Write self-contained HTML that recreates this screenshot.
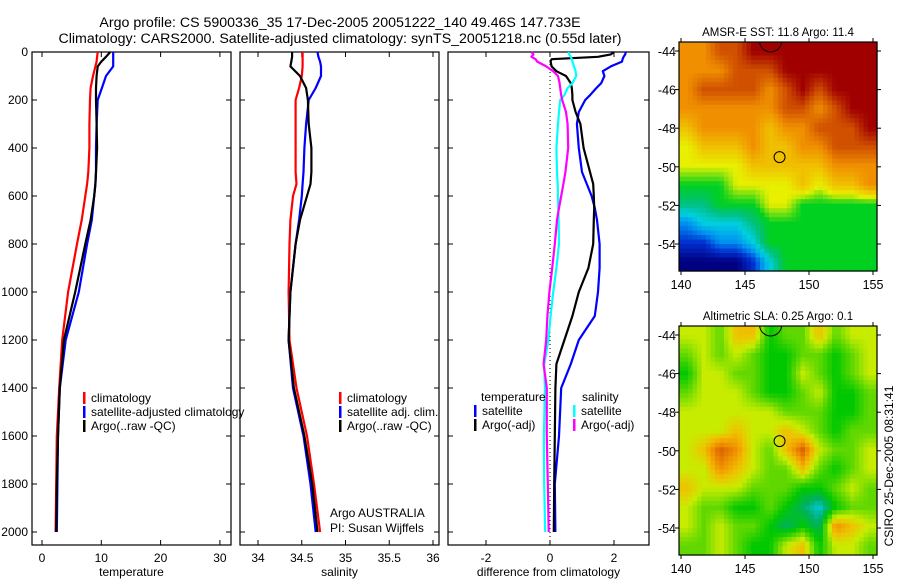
<!DOCTYPE html>
<html><head><meta charset="utf-8"><style>
html,body{margin:0;padding:0;background:#fff;}
svg{display:block;font-family:"Liberation Sans",sans-serif;}
</style></head><body>
<svg id="fig" width="900" height="580" viewBox="0 0 900 580">
<text x="340" y="27" font-size="14.2" text-anchor="middle">Argo profile: CS 5900336_35 17-Dec-2005 20051222_140 49.46S 147.733E</text>
<text x="340" y="43" font-size="14.2" text-anchor="middle">Climatology: CARS2000. Satellite-adjusted climatology: synTS_20051218.nc (0.55d later)</text>
<g id="g"></g>
</svg>
<script>
// ---- profile data ----
const tDepth = [0,20,40,60,100,150,200,300,400,500,550,600,700,800,1000,1200,1400,1600,1800,2000];
const tempClim = [9.4,9.3,9.2,9.0,8.6,8.2,8.1,8.0,8.0,7.8,7.6,7.3,6.7,5.9,4.4,3.4,2.9,2.5,2.4,2.3];
const tempSat  = [12.0,12.0,12.0,12.0,10.8,10.1,9.4,9.2,9.1,9.1,9.0,8.8,8.4,7.6,6.2,4.0,3.0,2.7,2.6,2.5];
const tempArgo = [11.5,10.8,10.0,9.4,9.2,9.1,9.1,9.2,9.3,9.1,9.0,8.8,8.2,7.3,5.6,3.7,3.0,2.7,2.5,2.4];
const salClim = [34.51,34.51,34.51,34.51,34.50,34.47,34.43,34.43,34.43,34.43,34.44,34.40,34.37,34.36,34.35,34.36,34.44,34.56,34.64,34.71];
const salSat  = [34.68,34.69,34.71,34.72,34.72,34.66,34.58,34.55,34.53,34.52,34.51,34.50,34.47,34.43,34.37,34.35,34.40,34.52,34.60,34.66];
const salArgo = [34.39,34.39,34.38,34.37,34.48,34.55,34.57,34.58,34.61,34.61,34.60,34.56,34.48,34.43,34.37,34.35,34.41,34.53,34.62,34.68];
const dDepth = [0,10,20,30,40,60,80,100,130,150,180,200,250,300,400,500,550,600,650,700,800,900,1000,1100,1200,1300,1400,1600,1800,2000];
const dTempSat  = [2.37,2.35,2.3,2.27,2.25,1.9,1.65,1.7,1.6,1.45,1.25,1.1,0.9,0.84,0.9,1.0,1.15,1.3,1.4,1.47,1.55,1.55,1.5,1.4,0.9,0.65,0.35,0.28,0.15,0.17];
const dTempArgo = [2.0,1.9,1.5,0.05,0.02,0.05,0.2,0.5,0.65,0.68,0.7,0.7,0.8,0.95,1.05,1.25,1.35,1.37,1.38,1.37,1.35,1.2,0.9,0.7,0.45,0.2,0.17,0.15,0.13,0.12];
const dSalSat   = [0.57,0.6,0.65,0.68,0.7,0.75,0.8,0.82,0.7,0.55,0.45,0.32,0.28,0.25,0.2,0.22,0.24,0.25,0.26,0.27,0.28,0.2,0.1,0.02,-0.05,-0.18,-0.16,-0.19,-0.18,-0.15];
const dSalArgo  = [-0.58,-0.52,-0.58,-0.45,-0.4,-0.12,0.1,0.25,0.3,0.32,0.35,0.38,0.5,0.55,0.57,0.48,0.42,0.35,0.28,0.22,0.15,0.07,-0.02,-0.08,-0.12,-0.2,-0.1,-0.1,-0.07,-0.04];
const depthTicks = [0,200,400,600,800,1000,1200,1400,1600,1800,2000];
const tempTicks = [0,10,20,30];
const salTicks = [34,34.5,35,35.5,36];
const diffTicks = [-2,0,2];
// ---- map data (colour level grids, rows -44..-55, cols 140..155) ----
const sstGrid = [
[8,8,9,9,10,10,10,10,10,10,10,10],
[8,8,8,9,9,9,10,10,10,10,10,10],
[8,9,9,9,9,8,9,10,9,10,10,10],
[8,8,8,8,8,8,9,9,8,9,10,10],
[7,8,8,8,8,7,8,8,9,9,9,10],
[6,7,7,7,8,7,7,8,8,9,9,9],
[6,6,6,6,7,7,7,7,7,8,8,8],
[5,5,5,6,6,6,6,7,6,7,7,8],
[4,4,5,5,5,6,6,5,5,5,5,5],
[2,3,3,3,4,5,5,5,5,5,5,5],
[1,1,2,2,3,5,5,5,5,5,5,5],
[0,0,0,0,1,3,5,5,5,5,5,5]];
const slaGrid = [
[4,4,3,5,5,2,3,3,5,3,4,4],
[3,4,3,4,3,2,2,3,3,2,3,4],
[2,4,4,3,3,2,2,4,3,2,3,4],
[3,4,4,4,3,2,2,3,4,2,2,3],
[4,4,4,4,4,4,3,3,3,2,2,3],
[4,4,4,5,4,4,5,4,3,2,3,3],
[4,5,7,6,4,3,5,7,4,3,3,4],
[4,4,6,5,4,3,3,5,3,2,3,4],
[5,4,4,4,3,3,3,2,2,3,4,3],
[4,3,3,2,2,3,2,1,0,2,3,3],
[4,3,4,3,3,2,1,2,1,6,5,4],
[3,3,4,3,2,2,4,5,2,4,4,3]];
const sstPal = ["#000080","#0030d0","#0090f0","#00d0e0","#00c080","#00d020","#e8f000","#f0c000","#f09000","#d05000","#a00000"];
const slaPal = ["#00c8e0","#00b060","#00c800","#60d800","#c8ec00","#f0c000","#f09000","#d86000"];
const mapLonTicks = [140,145,150,155];
const mapLatTicks = [-44,-46,-48,-50,-52,-54];

const NS="http://www.w3.org/2000/svg";
const G=document.getElementById('g');
function mk(tag,attrs,parent){const e=document.createElementNS(NS,tag);for(const k in attrs)e.setAttribute(k,attrs[k]);(parent||G).appendChild(e);return e;}
const Y0=52, YB=545;
const yD = d => Y0 + 0.24*d;

function panel(name,x0,x1,xf,ticks,label,fmt){
  const r=mk('rect',{x:x0,y:Y0,width:x1-x0,height:YB-Y0,fill:'none',stroke:'#000','stroke-width':1.2});
  
  
  depthTicks.forEach(d=>{
    mk('line',{x1:x0,x2:x0+5,y1:yD(d),y2:yD(d),stroke:'#000'});
    mk('line',{x1:x1,x2:x1-5,y1:yD(d),y2:yD(d),stroke:'#000'});
  });
  ticks.forEach(v=>{
    const x=xf(v);
    mk('line',{x1:x,x2:x,y1:YB,y2:YB-5,stroke:'#000'});
    mk('line',{x1:x,x2:x,y1:Y0,y2:Y0+5,stroke:'#000'});
    const t=mk('text',{x:x,y:562,'font-size':12,'text-anchor':'middle'});
    t.textContent=fmt?fmt(v):String(v);
    
    
  });
  const t=mk('text',{x:(x0+x1)/2,y:576,'font-size':12,'text-anchor':'middle'});
  t.textContent=label;
  
  
}
function line(name,xf,depths,vals,color){
  const pts=depths.map((d,i)=>xf(vals[i]).toFixed(1)+','+yD(d).toFixed(1)).join(' ');
  const p=mk('polyline',{points:pts,fill:'none',stroke:color,'stroke-width':2.2,'stroke-linejoin':'round'});
  
  
}
function txt(name,x,y,s,extra){const t=mk('text',Object.assign({x:x,y:y,'font-size':12},extra||{}));t.textContent=s;
  
  return t;}
function legend(name,x,y,color,s){
  const b=mk('rect',{x:x,y:y-10,width:2.5,height:12,fill:color});
  
  
  txt(name,x+8,y,s);
}

depthTicks.forEach(d=>{txt('depth-tick-label',28,yD(d)+4,String(d),{'text-anchor':'end'});});

const xT = v=>42+5.93*v, xS=v=>258+87.5*(v-34), xDf=v=>550+32*v;
panel('temperature-panel',32,231,xT,tempTicks,'temperature');
panel('salinity-panel',240,439,xS,salTicks,'salinity');
panel('difference-panel',448,649,xDf,diffTicks,'difference from climatology');
mk('line',{x1:xDf(0),x2:xDf(0),y1:Y0,y2:YB,stroke:'#000','stroke-dasharray':'1,3'});

line('temp-climatology-line',xT,tDepth,tempClim,'#ff0000');
line('temp-satellite-line',xT,tDepth,tempSat,'#0000ff');
line('temp-argo-line',xT,tDepth,tempArgo,'#000000');
line('sal-climatology-line',xS,tDepth,salClim,'#ff0000');
line('sal-satellite-line',xS,tDepth,salSat,'#0000ff');
line('sal-argo-line',xS,tDepth,salArgo,'#000000');
line('diff-temp-satellite-line',xDf,dDepth,dTempSat,'#0000ff');
line('diff-temp-argo-line',xDf,dDepth,dTempArgo,'#000000');
line('diff-sal-satellite-line',xDf,dDepth,dSalSat,'#00ffff');
line('diff-sal-argo-line',xDf,dDepth,dSalArgo,'#ff00ff');

legend('legend-temp-climatology',83,402,'#ff0000','climatology');
legend('legend-temp-satellite',83,416,'#0000ff','satellite-adjusted climatology');
legend('legend-temp-argo',83,430,'#000000','Argo(..raw -QC)');
legend('legend-sal-climatology',339,402,'#ff0000','climatology');
legend('legend-sal-satellite',339,416,'#0000ff','satellite adj. clim.');
legend('legend-sal-argo',339,430,'#000000','Argo(..raw -QC)');
txt('legend-temperature-heading',481,401,'temperature');
legend('legend-diff-temp-satellite',474,415,'#0000ff','satellite');
legend('legend-diff-temp-argo',474,429,'#000000','Argo(-adj)');
txt('legend-salinity-heading',582,401,'salinity');
legend('legend-diff-sal-satellite',573,415,'#00ffff','satellite');
legend('legend-diff-sal-argo',573,429,'#ff00ff','Argo(-adj)');
txt('argo-australia-label',330,517,'Argo AUSTRALIA');
txt('pi-label',330,532,'PI: Susan Wijffels');

function hex(c){return [parseInt(c.substr(1,2),16),parseInt(c.substr(3,2),16),parseInt(c.substr(5,2),16)];}
function palCol(pal,v){v=Math.max(0,Math.min(pal.length-1,v));const i=Math.min(pal.length-2,Math.floor(v));const f=v-i;
  const a=hex(pal[i]),b=hex(pal[i+1]);return 'rgb('+a.map((x,k)=>Math.round(x+(b[k]-x)*f)).join(',')+')';}
function drawMap(name,grid,pal,x0,y0,title,lat44y){
  const W=198,H=229, nx=44, ny=51;
  const mg=mk('g',{});
  
  
  const R=grid.length,C=grid[0].length;
  for(let j=0;j<ny;j++)for(let i=0;i<nx;i++){
    const gx=(i+0.5)/nx*C-0.5, gy=(j+0.5)/ny*R-0.5;
    const ix=Math.max(0,Math.min(C-2,Math.floor(gx))), iy=Math.max(0,Math.min(R-2,Math.floor(gy)));
    const fx=Math.max(0,Math.min(1,gx-ix)), fy=Math.max(0,Math.min(1,gy-iy));
    const v=grid[iy][ix]*(1-fx)*(1-fy)+grid[iy][ix+1]*fx*(1-fy)+grid[iy+1][ix]*(1-fx)*fy+grid[iy+1][ix+1]*fx*fy;
    mk('rect',{x:(x0+i*W/nx).toFixed(2),y:(y0+j*H/ny).toFixed(2),width:(W/nx+0.6).toFixed(2),height:(H/ny+0.6).toFixed(2),fill:palCol(pal,v)},mg);
  }
  mk('rect',{x:x0,y:y0,width:W,height:H,fill:'none',stroke:'#000','stroke-width':1.2});
  const lx=lon=>681+(lon-140)*12.8, ly=lat=>lat44y+(-44-lat)*19.3;
  mapLonTicks.forEach(l=>{const x=lx(l);mk('line',{x1:x,x2:x,y1:y0+H,y2:y0+H+4,stroke:'#000'});mk('line',{x1:x,x2:x,y1:y0,y2:y0-4,stroke:'#000'});
    txt(name+'-lon-label',x,y0+H+18,String(l),{'text-anchor':'middle','font-size':12.5});});
  mapLatTicks.forEach(l=>{const y=ly(l);mk('line',{x1:x0,x2:x0-4,y1:y,y2:y,stroke:'#000'});mk('line',{x1:x0+W,x2:x0+W+4,y1:y,y2:y,stroke:'#000'});
    txt(name+'-lat-label',x0-3,y+5,String(l),{'text-anchor':'end','font-size':12.5});});
  txt(name+'-title',x0+W/2,y0-6,title,{'text-anchor':'middle','font-size':11.5});
  mk('circle',{cx:lx(147.7),cy:ly(-49.5),r:5.5,fill:'none',stroke:'#000','stroke-width':1});
  const cp=mk('clipPath',{id:name+'-clip'});mk('rect',{x:x0,y:y0,width:W,height:H},cp);
  mk('circle',{cx:lx(147.0),cy:y0-1,r:11,fill:'none',stroke:'#000','stroke-width':1,'clip-path':'url(#'+name+'-clip)'});
}
drawMap('sst-map',sstGrid,sstPal,679,42,'AMSR-E SST: 11.8 Argo: 11.4',51);
drawMap('sla-map',slaGrid,slaPal,679,326,'Altimetric SLA: 0.25 Argo: 0.1',335);
txt('timestamp-label',893,466,'CSIRO 25-Dec-2005 08:31:41',{'text-anchor':'middle','transform':'rotate(-90 893 466)','font-size':12});
</script>
</body></html>
